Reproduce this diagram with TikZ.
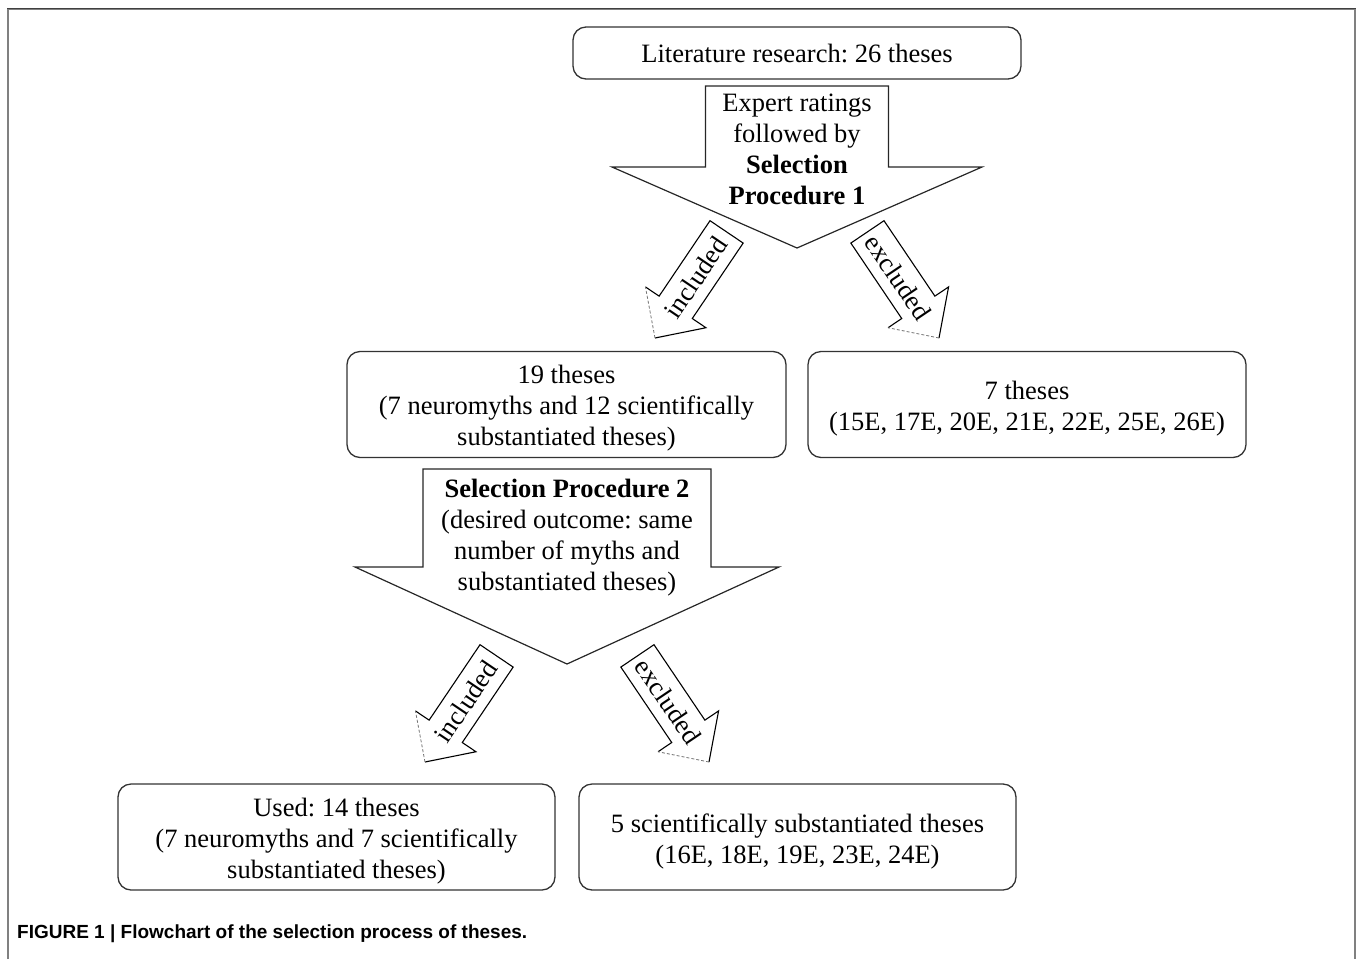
\documentclass[tikz,border=0pt]{standalone}
\usepackage{fontspec}
\setmainfont{Liberation Serif}
\newfontfamily\capfont{Liberation Sans}
\frenchspacing
\begin{document}
\begin{tikzpicture}[x=1pt,y=-1pt,line cap=butt,line join=miter]
	\tikzset{thesbox/.style={draw=black!80,line width=1.3pt,rounded corners=13pt,
			minimum height=106pt,inner sep=0pt,align=center,
			font=\fontsize{26.5}{31}\selectfont},
		bigarrow/.style={draw=black!85,line width=1.2pt,fill=white},
		arrtext/.style={inner sep=0pt,align=center,font=\fontsize{26.5}{31}\selectfont}
	}
	\useasboundingbox (0,0) rectangle (1357,959);
	% frame
	\draw[black!50,line width=2pt] (8,959)--(8,8.5)--(1355,8.5)--(1355,959);
	\draw[black!75,line width=1.5pt] (7,8.5)--(1356,8.5);
	% boxes
	\node[thesbox,minimum width=448pt,minimum height=52pt] (lit) at (797,53) {Literature research: 26 theses};
	\node[thesbox,minimum width=439pt] (incl1) at (566.5,404.5) {};
	\node[thesbox,minimum width=438pt] (excl1) at (1027,404.5) {};
	\node[thesbox,minimum width=437pt] (used) at (336.5,837) {};
	\node[thesbox,minimum width=437pt] (excl2) at (797.5,837) {};
	\node[arrtext] (incl1t) at ([yshift=-4pt]incl1.center) {19 theses\\(7 neuromyths and 12 scientifically\\substantiated theses)};
	\node[arrtext] (excl1t) at ([yshift=-4pt]excl1.center) {7 theses\\(15E, 17E, 20E, 21E, 22E, 25E, 26E)};
	\node[arrtext] (usedt) at ([yshift=-4pt]used.center) {Used: 14 theses\\(7 neuromyths and 7 scientifically\\substantiated theses)};
	\node[arrtext] (excl2t) at ([yshift=-4pt]excl2.center) {5 scientifically substantiated theses\\(16E, 18E, 19E, 23E, 24E)};
	% selection arrows
	\draw[bigarrow] (705.5,86)--(888.5,86)--(888.5,167)--(982,167)--(797,248)--(612,167)--(705.5,167)--cycle;
	\node[arrtext] (sel1) at (797,149) {Expert ratings\\followed by\\\textbf{Selection}\\\textbf{Procedure 1}};
	\draw[bigarrow] (423,469)--(711,469)--(711,567)--(779,567)--(567,664)--(355,567)--(423,567)--cycle;
	\node[arrtext] (sel2) at (567,538) {\textbf{Selection Procedure 2}\\(desired outcome: same\\number of myths and\\substantiated theses)};
	% included / excluded arrows
	\foreach \tx/\ty/\ang/\tang/\lab in {655/338/236/56/included,939/338/-56/-56/excluded,
		425/762/236/56/included,709/762/-56/-56/excluded}{
		\begin{scope}[shift={(\tx,\ty)},rotate=\ang]
			\draw[line width=1.1pt] (-37,36.5)--(-37,20)--(-128,20)--(-128,-20)--(-37,-20)--(-37,-36.5)--(0,0);
			\draw[black!55,densely dashed,line width=0.8pt] (0,0)--(-37,36.5);
			\node[arrtext,rotate=\tang] (\lab-\tx) at (-73,0) {\lab};
		\end{scope}
	}
	\node[anchor=base west,inner sep=0pt,font=\capfont\bfseries\fontsize{19}{22}\selectfont] (cap) at (17,938) {FIGURE 1 | Flowchart of the selection process of theses.};
\end{tikzpicture}
\end{document}
